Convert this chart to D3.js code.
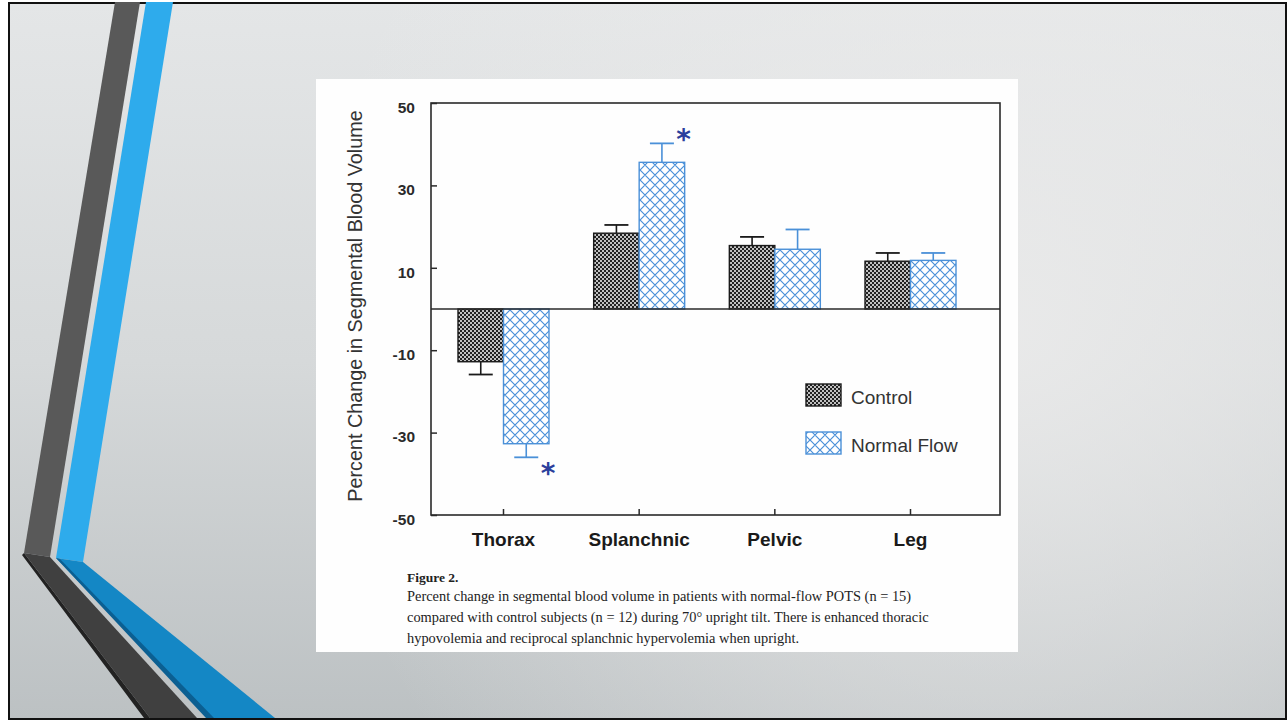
<!DOCTYPE html>
<html>
<head>
<meta charset="utf-8">
<script src="https://cdn.jsdelivr.net/npm/d3@7"></script>
<style>
  html, body { margin: 0; padding: 0; background: #ffffff; }
  svg { display: block; }
</style>
</head>
<body>
<svg id="c" width="1288" height="721"></svg>
<script>
// ---------------- DATA ----------------
const categories = ["Thorax", "Splanchnic", "Pelvic", "Leg"];
const seriesNames = ["Control", "Normal Flow"];
const controlValues = [-12.8, 18.4, 15.4, 11.6];
const controlErrors = [3.1, 2.0, 2.1, 2.0];
const normalFlowValues = [-32.7, 35.6, 14.5, 11.8];
const normalFlowErrors = [3.3, 4.6, 4.8, 1.8];
const normalFlowSignificant = [true, true, false, false];
const yTickValues = [50, 30, 10, -10, -30, -50];
const yTitle = "Percent Change in Segmental Blood Volume";
const captionTitle = "Figure 2.";
const captionLines = [
  "Percent change in segmental blood volume in patients with normal-flow POTS (n = 15)",
  "compared with control subjects (n = 12) during 70° upright tilt. There is enhanced thoracic",
  "hypovolemia and reciprocal splanchnic hypervolemia when upright."
];

// ---------------- SETUP ----------------
const svg = d3.select("#c");
const defs = svg.append("defs");

// slide background gradients
const lgBg = defs.append("linearGradient").attr("id", "bgLin")
  .attr("x1", 0).attr("y1", 0).attr("x2", 0).attr("y2", 1);
lgBg.append("stop").attr("offset", 0).attr("stop-color", "#e4e6e7");
lgBg.append("stop").attr("offset", 0.5).attr("stop-color", "#d6d9da");
lgBg.append("stop").attr("offset", 1).attr("stop-color", "#bcc1c3");
const rg = defs.append("radialGradient").attr("id", "bgRad")
  .attr("gradientUnits", "userSpaceOnUse")
  .attr("cx", 1000).attr("cy", 330).attr("r", 700);
rg.append("stop").attr("offset", 0).attr("stop-color", "#ececec").attr("stop-opacity", 0.85);
rg.append("stop").attr("offset", 1).attr("stop-color", "#ececec").attr("stop-opacity", 0);

// patterns
const pc = defs.append("pattern").attr("id", "pControl")
  .attr("patternUnits", "userSpaceOnUse").attr("width", 4).attr("height", 4);
pc.append("rect").attr("width", 4).attr("height", 4).attr("fill", "#222222");
pc.append("circle").attr("cx", 1).attr("cy", 1).attr("r", 1.0).attr("fill", "#f6f6f6");
pc.append("circle").attr("cx", 3).attr("cy", 3).attr("r", 1.0).attr("fill", "#f6f6f6");

const blue = "#4a90d8";
const pn = defs.append("pattern").attr("id", "pNormal")
  .attr("patternUnits", "userSpaceOnUse").attr("width", 10).attr("height", 10);
pn.append("rect").attr("width", 10).attr("height", 10).attr("fill", "#ffffff");
pn.append("path").attr("d", "M-1,-1 L11,11 M-1,11 L11,-1 M-6,4 L4,-6 M6,14 L14,6 M6,-4 L14,4 M-4,6 L4,14")
  .attr("stroke", blue).attr("stroke-width", 1.2).attr("fill", "none");

// slide
svg.append("rect").attr("x", 9).attr("y", 3).attr("width", 1277).attr("height", 716)
  .attr("fill", "url(#bgLin)");
svg.append("rect").attr("x", 9).attr("y", 3).attr("width", 1277).attr("height", 716)
  .attr("fill", "url(#bgRad)").attr("stroke", "#111").attr("stroke-width", 2);

// decorative stripes
const stripes = [
  { pts: [[115,2],[140,2],[50,557],[24,553]], fill: "#595959" },
  { pts: [[146,2],[173,2],[83,562],[56,558]], fill: "#2eabec" },
  { pts: [[24,553],[50,557],[197,718],[150,718]], fill: "#404040" },
  { pts: [[22,555],[24,553],[150,718],[144,718]], fill: "#222222" },
  { pts: [[56,558],[83,562],[275,718],[208,718]], fill: "#1487c5" },
  { pts: [[56,558],[60,559],[214,718],[206,718]], fill: "#0b5f92" }
];
svg.append("g").selectAll("polygon").data(stripes).join("polygon")
  .attr("points", d => d.pts.map(p => p.join(",")).join(" "))
  .attr("fill", d => d.fill);

// figure panel
svg.append("rect").attr("x", 316).attr("y", 79).attr("width", 702).attr("height", 573)
  .attr("fill", "#fefefe");

// ---------------- CHART ----------------
const plotL = 431, plotR = 1000, plotT = 103, plotB = 515;
const y = d3.scaleLinear().domain([-50, 50]).range([plotB, plotT]);
const x = d3.scalePoint().domain(categories).range([plotL + 72, plotR - 90]);
const sub = d3.scaleBand().domain(seriesNames).range([-45, 46]).padding(0);

const rows = categories.map((c, i) => ({
  cat: c,
  bars: [
    { s: "Control", v: controlValues[i], e: controlErrors[i], sig: false },
    { s: "Normal Flow", v: normalFlowValues[i], e: normalFlowErrors[i], sig: normalFlowSignificant[i] }
  ]
}));
const fillOf = s => s === "Control" ? "url(#pControl)" : "url(#pNormal)";
const strokeOf = s => s === "Control" ? "#1a1a1a" : blue;

const g = svg.append("g");

// error bars
const eg = g.append("g");
rows.forEach(r => r.bars.forEach(b => {
  const cx = x(r.cat) + sub(b.s) + sub.bandwidth() / 2;
  const sgn = b.v >= 0 ? 1 : -1;
  const y1 = y(b.v), y2 = y(b.v + sgn * b.e);
  eg.append("line").attr("x1", cx).attr("x2", cx).attr("y1", y1).attr("y2", y2)
    .attr("stroke", strokeOf(b.s)).attr("stroke-width", 1.6);
  eg.append("line").attr("x1", cx - 12).attr("x2", cx + 12).attr("y1", y2).attr("y2", y2)
    .attr("stroke", strokeOf(b.s)).attr("stroke-width", 1.8);
  if (b.sig) {
    const ax = x(r.cat) + sub(b.s) + sub.bandwidth() - 1;
    const ay = sgn > 0 ? y2 - 8 : y2 + 12;
    g.append("text").attr("x", ax).attr("y", ay + 14)
      .attr("text-anchor", "middle")
      .attr("font-family", "DejaVu Sans, sans-serif")
      .attr("font-weight", "bold").attr("font-size", 28)
      .attr("fill", "#2b3f9c").text("*");
  }
}));

// bars
rows.forEach(r => {
  g.append("g").selectAll("rect").data(r.bars).join("rect")
    .attr("x", b => x(r.cat) + sub(b.s))
    .attr("width", sub.bandwidth())
    .attr("y", b => Math.min(y(0), y(b.v)))
    .attr("height", b => Math.abs(y(b.v) - y(0)))
    .attr("fill", b => fillOf(b.s))
    .attr("stroke", b => strokeOf(b.s))
    .attr("stroke-width", 1.4);
});

// frame
g.append("rect").attr("x", plotL).attr("y", plotT)
  .attr("width", plotR - plotL).attr("height", plotB - plotT)
  .attr("fill", "none").attr("stroke", "#2a2a2a").attr("stroke-width", 1.6);

// zero line
g.append("line").attr("x1", plotL).attr("x2", plotR).attr("y1", y(0)).attr("y2", y(0))
  .attr("stroke", "#2a2a2a").attr("stroke-width", 1.5);

// y axis
const yAxis = d3.axisLeft(y).tickValues(yTickValues).tickFormat(d => String(d))
  .tickSizeInner(-6).tickSizeOuter(0).tickPadding(16);
const ya = g.append("g").attr("transform", `translate(${plotL},0)`).call(yAxis);
ya.select(".domain").remove();
ya.selectAll(".tick line").attr("stroke", "#2a2a2a").attr("stroke-width", 1.5);
ya.selectAll(".tick text")
  .attr("font-family", "Liberation Sans, Arial, sans-serif")
  .attr("font-weight", "bold").attr("font-size", 15.5).attr("fill", "#2a2a2a")
  .attr("dy", "0.6em");

// x axis
const xAxis = d3.axisBottom(x).tickSizeInner(-6).tickSizeOuter(0).tickPadding(18);
const xa = g.append("g").attr("transform", `translate(0,${plotB})`).call(xAxis);
xa.select(".domain").remove();
xa.selectAll(".tick line").attr("stroke", "#2a2a2a").attr("stroke-width", 1.5);
xa.selectAll(".tick text")
  .attr("font-family", "Liberation Sans, Arial, sans-serif")
  .attr("font-weight", "bold").attr("font-size", 19).attr("fill", "#1a1a1a")
  .attr("dy", "0.68em");

// y title
g.append("text")
  .attr("transform", `translate(362,306) rotate(-90)`)
  .attr("text-anchor", "middle")
  .attr("font-family", "Liberation Sans, Arial, sans-serif")
  .attr("font-size", 19.8).attr("fill", "#333").text(yTitle);

// legend
const lg = g.append("g");
seriesNames.forEach((s, i) => {
  const ly = 384 + i * 48;
  lg.append("rect").attr("x", 806).attr("y", ly).attr("width", 35).attr("height", 22)
    .attr("fill", fillOf(s)).attr("stroke", strokeOf(s)).attr("stroke-width", 1.4);
  lg.append("text").attr("x", 851).attr("y", ly + 20)
    .attr("font-family", "Liberation Sans, Arial, sans-serif")
    .attr("font-size", 19).attr("fill", "#333").text(s);
});

// caption
const cap = svg.append("g").attr("font-family", "Liberation Serif, Times New Roman, serif")
  .attr("fill", "#222");
cap.append("text").attr("x", 407).attr("y", 582).attr("font-weight", "bold")
  .attr("font-size", 13.5).text(captionTitle);
captionLines.forEach((t, i) => {
  cap.append("text").attr("x", 407).attr("y", 601 + i * 21).attr("font-size", 14.4).text(t);
});
</script>
</body>
</html>
